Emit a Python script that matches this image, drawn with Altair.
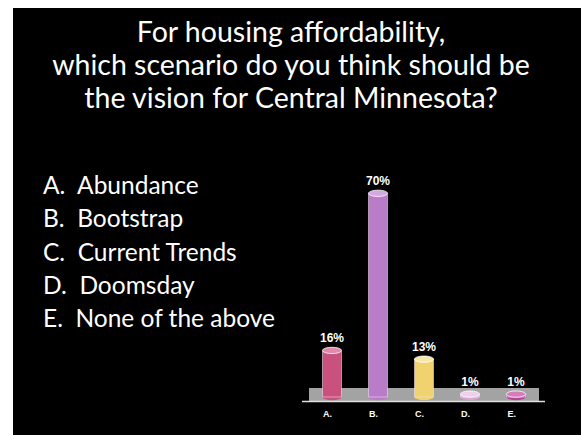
import altair as alt
import pandas as pd

categories = ["A.", "B.", "C.", "D.", "E."]
percents = [16, 70, 13, 1, 1]
labels = ["16%", "70%", "13%", "1%", "1%"]
bar_colors = ["#C9527C", "#B97CC9", "#F0D26E", "#D9A3D3", "#B8449A"]
top_colors = ["#E08AAA", "#D4A8E0", "#F8E6A8", "#EED0EA", "#D47CBC"]

title_lines = [
    "For housing affordability,",
    "which scenario do you think should be",
    "the vision for Central Minnesota?",
]
options = [
    "A.\u00a0 Abundance",
    "B.\u00a0 Bootstrap",
    "C.\u00a0 Current Trends",
    "D.\u00a0 Doomsday",
    "E.\u00a0 None of the above",
]

df = pd.DataFrame({
    "cat": categories,
    "pct": percents,
    "label": labels,
    "color": bar_colors,
    "topcolor": top_colors,
})

# plot area origin on canvas: (309, 106); size 230 x 291
W, H = 230, 291

x_enc = alt.X("cat:N", sort=categories,
              scale=alt.Scale(paddingInner=0, paddingOuter=0),
              axis=alt.Axis(title=None, domain=False, ticks=False, labelAngle=0,
                            labelColor="white", labelFont="Arial", labelFontSize=9,
                            labelFontWeight="bold", labelPadding=16, grid=False,
                            zindex=2))
y_scale = alt.Scale(domain=[0, 100])
y_enc = alt.Y("pct:Q", scale=y_scale, axis=None)

background = alt.Chart(pd.DataFrame({"a": [0]})).mark_rect(color="black").encode(
    x=alt.value(-296), x2=alt.value(272), y=alt.value(-98), y2=alt.value(329)
)

floor = alt.Chart(pd.DataFrame({"a": [0]})).mark_rect(color="#A3A3A3").encode(
    x=alt.value(0), x2=alt.value(230), y=alt.value(282), y2=alt.value(295)
)
floor_edge = alt.Chart(pd.DataFrame({"a": [0]})).mark_rule(color="#E0E0E0", strokeWidth=1.5).encode(
    x=alt.value(-7), x2=alt.value(236), y=alt.value(295.5)
)

bars = alt.Chart(df).mark_bar(size=19, stroke="#F0E0F0", strokeWidth=0.8, strokeOpacity=0.7).encode(
    x=x_enc, y=y_enc, color=alt.Color("color:N", scale=None)
)

ellipse = "M -1 0 A 1 0.33 0 1 0 1 0 A 1 0.33 0 1 0 -1 0 Z"
tops = alt.Chart(df).mark_point(shape=ellipse, size=361, filled=True, opacity=1,
                                 stroke="#FFFFFF", strokeWidth=0.8).encode(
    x=alt.X("cat:N", sort=categories), y=alt.Y("pct:Q", scale=y_scale),
    color=alt.Color("topcolor:N", scale=None)
)
bottoms = alt.Chart(df).mark_point(shape=ellipse, size=361, filled=True, opacity=1).encode(
    x=alt.X("cat:N", sort=categories), y=alt.value(H),
    color=alt.Color("color:N", scale=None)
)

value_text = alt.Chart(df).mark_text(color="white", font="Arial", fontSize=12,
                                     fontWeight="bold", dy=-12, baseline="middle").encode(
    x=alt.X("cat:N", sort=categories), y=alt.Y("pct:Q", scale=y_scale), text="label:N"
)

title_df = pd.DataFrame({"line": title_lines, "i": [0, 1, 2]})
title = alt.Chart(title_df).mark_text(color="white", font="Lato", fontSize=28.5,
                                      align="center", baseline="middle").encode(
    x=alt.value(-18),
    y=alt.Y("i:Q", scale=alt.Scale(domain=[0, 2], range=[-73, -7]), axis=None),
    text="line:N"
)

opt_df = pd.DataFrame({"line": options, "i": [0, 1, 2, 3, 4]})
opt_text = alt.Chart(opt_df).mark_text(color="white", font="Lato", fontSize=24.5,
                                       align="left", baseline="middle").encode(
    x=alt.value(-266),
    y=alt.Y("i:Q", scale=alt.Scale(domain=[0, 4], range=[81, 214]), axis=None),
    text="line:N"
)

chart = alt.layer(background, floor, floor_edge, bottoms, bars, tops, value_text,
                  title, opt_text).resolve_scale(y="independent").properties(
    width=W, height=H,
    padding={"left": 309, "top": 106, "right": 42, "bottom": 38},
    autosize=alt.AutoSizeParams(type="none"),
    background="white",
).configure_view(stroke=None)

chart.save("out.html", embed_options={"renderer": "svg", "actions": False})
